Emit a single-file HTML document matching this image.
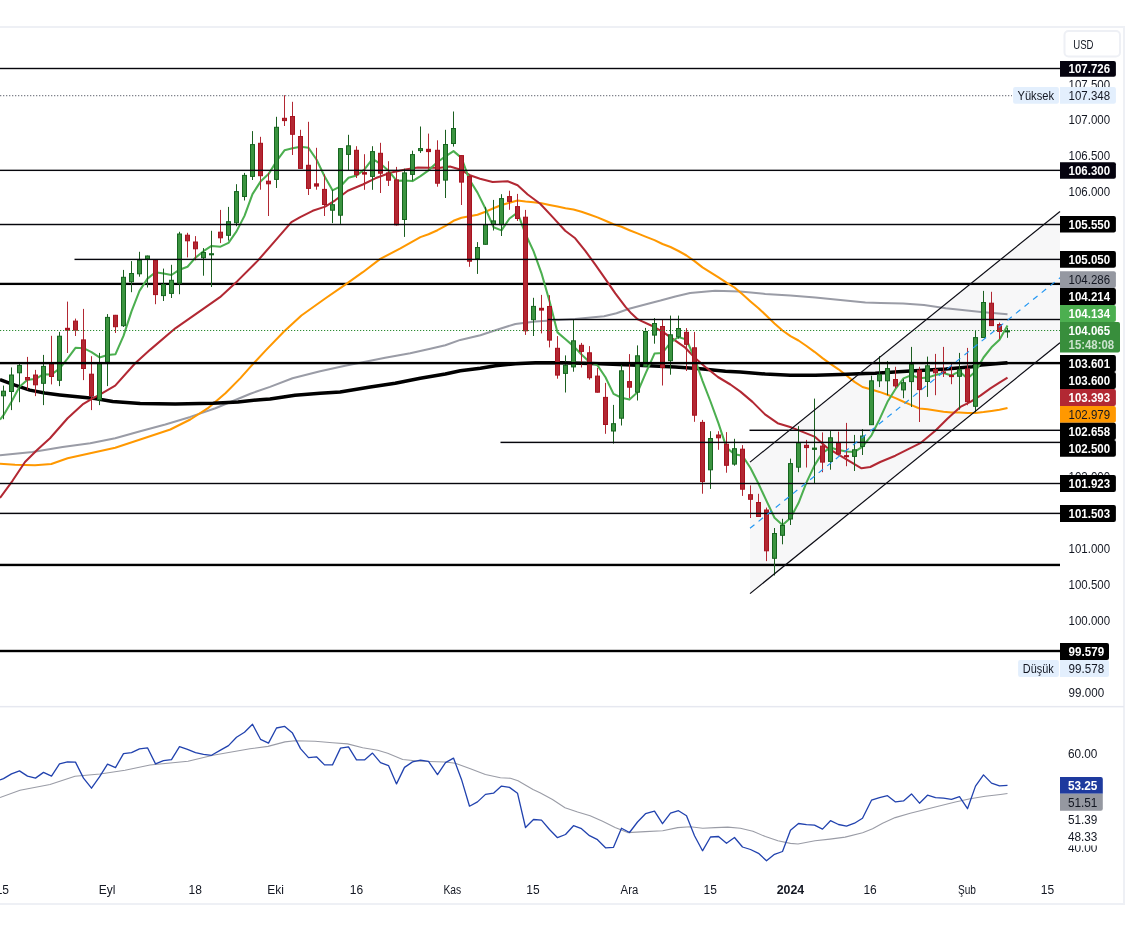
<!DOCTYPE html>
<html><head><meta charset="utf-8"><title>chart</title>
<style>
html,body{margin:0;padding:0;background:#fff;}
body{width:1134px;height:939px;position:relative;overflow:hidden;font-family:"Liberation Sans",sans-serif;}
svg{position:absolute;left:0;top:0;will-change:transform;}
.t{font-family:"Liberation Sans",sans-serif;font-size:12px;fill:#131722;}
.b{font-weight:bold;}
.w{fill:#fff;}
</style></head><body>
<svg width="1134" height="939" viewBox="0 0 1134 939">
<g fill="#eef0f5">
<rect x="0" y="26" width="1125" height="2"/>
<rect x="1123" y="26" width="2" height="879"/>
<rect x="0" y="903" width="1125" height="2"/>
<rect x="0" y="705.9" width="1124" height="1.5" fill="#e6e8f0"/>
</g>
<polygon points="750,462.1 1060,211.5 1060,342.7 750,593.6" fill="#f7f7f8"/>
<rect x="0" y="282.75" width="1060" height="2.3" fill="#000"/>
<rect x="0" y="563.75" width="1060" height="2.4" fill="#000"/>
<rect x="0" y="649.80" width="1060" height="2.4" fill="#000"/>
<polyline points="0.0,455.2 32.6,451.9 62.6,446.9 90.2,443.2 115.2,438.2 140.2,431.2 165.3,424.4 190.3,416.9 215.4,408.2 250.4,393.7 270.0,386.9 292.5,378.2 320.1,371.2 345.1,365.7 370.2,360.7 385.2,357.7 410.2,353.2 430.3,348.7 445.3,345.2 460.3,339.9 480.4,335.2 495.4,330.2 515.4,323.9 535.5,321.4 554.0,320.2 575.1,318.9 604.0,316.2 616.5,313.2 629.1,308.8 648.0,303.7 660.5,300.6 675.3,296.4 690.1,293.1 715.1,290.8 740.2,291.4 765.2,293.9 790.3,295.6 815.3,297.4 840.3,299.9 865.4,302.6 880.4,303.1 903.0,303.4 924.0,305.1 945.8,308.2 981.1,311.9 1007.5,314.2" fill="none" stroke="#9a9ca6" stroke-width="2.05" stroke-linejoin="round"/>
<polyline points="0.0,463.8 15.0,464.8 35.0,465.3 51.3,464.0 67.6,458.3 90.2,453.3 115.2,447.8 140.2,439.5 170.3,429.5 190.3,419.5 207.9,408.2 225.4,393.2 240.4,378.1 250.4,366.9 265.5,350.6 284.0,331.5 301.4,315.5 325.2,298.5 345.3,284.7 362.8,272.2 380.3,258.9 400.4,248.4 420.4,237.1 428.5,234.2 437.5,230.2 445.5,225.8 453.5,220.8 461.5,217.7 469.5,216.3 477.5,214.7 485.5,211.8 493.5,208.3 501.5,205.0 509.5,202.7 517.5,200.5 525.5,201.6 533.5,202.3 541.5,203.3 549.5,205.0 557.5,206.6 565.5,208.2 573.5,209.4 581.5,211.7 589.5,214.5 597.5,217.4 605.5,220.8 613.5,224.2 621.5,226.8 629.5,230.2 637.5,233.4 645.5,236.6 654.5,240.1 662.5,244.0 670.5,247.0 678.5,251.0 686.5,255.5 694.5,261.1 702.5,267.4 710.5,272.4 718.5,277.4 726.5,282.6 734.5,287.5 742.5,294.3 750.5,301.4 758.5,308.2 766.5,315.8 774.5,323.4 782.5,330.5 790.5,336.1 798.5,340.5 806.5,346.0 814.5,351.8 822.5,358.1 830.5,363.8 838.5,369.3 846.5,375.5 854.5,381.9 862.5,387.0 871.5,389.4 879.5,391.9 887.5,394.8 895.5,398.1 903.5,401.8 911.5,405.1 919.5,408.5 927.5,409.2 935.5,410.5 943.5,411.8 951.5,412.5 959.5,412.4 967.5,413.1 975.5,413.0 983.5,412.1 991.5,411.0 999.5,409.8 1007.5,407.9" fill="none" stroke="#ff9800" stroke-width="2.05" stroke-linejoin="round"/>
<polyline points="0.0,379.6 14.9,385.2 29.8,390.1 44.7,393.0 59.7,394.9 80.0,397.1 95.0,398.5 112.7,401.4 140.2,403.4 175.3,403.9 212.9,403.2 238.0,401.9 263.0,399.4 270.0,399.0 295.0,395.3 320.1,393.3 340.1,392.0 370.2,387.0 395.2,383.3 420.3,378.3 445.3,374.0 460.3,370.7 480.4,368.2 495.4,365.7 515.4,363.7 535.5,362.7 562.6,362.7 600.2,363.7 637.7,365.2 675.3,367.0 700.4,368.7 725.4,371.2 740.2,372.0 765.2,374.0 790.3,375.3 815.3,375.3 840.3,374.5 865.4,373.5 875.3,373.2 910.5,371.1 945.8,369.0 972.3,366.7 981.1,365.0 1007.5,362.7" fill="none" stroke="#000" stroke-width="3.5" stroke-linejoin="round"/>
<polyline points="0.0,497.9 12.5,480.8 25.0,462.0 37.6,449.5 50.0,438.3 67.6,418.2 82.6,404.4 91.4,399.2 100.2,394.3 115.2,385.6 135.2,363.2 150.3,349.6 175.3,328.3 200.0,311.1 220.0,297.2 237.6,280.9 257.6,260.9 275.1,240.9 291.4,222.1 300.2,217.1 312.7,210.8 325.2,206.6 335.2,200.3 347.8,190.8 362.8,184.5 375.3,178.3 390.3,172.8 405.4,169.5 417.9,167.5 430.4,167.8 440.4,167.8 450.0,166.5 460.0,169.5 470.0,175.2 480.0,178.7 492.6,182.0 507.6,181.2 517.6,185.2 527.7,194.5 540.2,203.8 552.7,217.1 565.2,230.8 575.2,238.3 585.3,250.9 595.3,264.6 605.3,278.9 615.3,293.4 625.3,306.6 631.5,313.6 637.9,319.4 651.7,325.7 662.8,331.9 675.3,340.7 685.3,347.7 695.3,358.2 705.4,367.0 717.9,377.0 730.4,384.5 740.4,391.6 752.5,401.9 765.0,414.4 777.6,423.2 790.1,426.9 802.6,431.9 815.1,436.9 827.7,448.2 840.2,455.7 852.7,463.2 861.5,468.3 870.2,467.0 880.2,462.0 895.3,455.7 910.3,448.2 920.3,443.2 935.3,430.7 947.9,418.2 960.4,406.9 970.4,401.9 980.4,395.6 990.4,388.4 999.4,382.6 1007.5,377.7" fill="none" stroke="#b22833" stroke-width="2.05" stroke-linejoin="round"/>
<polyline points="0.0,419.7 3.5,415.2 11.5,401.8 19.5,386.8 27.5,379.8 35.5,379.1 43.5,374.2 51.5,374.5 59.5,368.7 67.5,358.7 75.5,347.8 83.5,348.2 91.5,352.1 99.5,357.4 107.5,354.9 115.5,354.2 123.5,335.9 131.5,311.4 139.5,290.9 147.5,278.6 155.5,272.2 163.5,273.6 171.5,275.0 179.5,269.7 187.5,266.7 195.5,257.6 203.5,251.2 211.5,245.9 220.5,246.7 228.5,242.8 236.5,231.4 244.5,215.9 252.5,194.1 260.5,181.6 268.5,174.1 276.5,161.2 284.5,150.3 292.5,148.3 300.5,146.8 308.5,147.8 316.5,159.5 324.5,176.3 332.5,190.3 340.5,186.3 348.5,177.8 356.5,175.5 364.5,169.4 372.5,158.8 380.5,163.8 388.5,170.7 396.5,180.7 404.5,180.5 412.5,181.1 420.5,176.1 428.5,170.3 437.5,162.0 445.5,156.3 453.5,151.1 461.5,157.9 469.5,179.8 477.5,192.6 485.5,208.7 493.5,227.2 501.5,230.4 509.5,218.5 517.5,212.7 525.5,234.0 533.5,251.1 541.5,273.3 549.5,301.1 557.5,332.4 565.5,339.3 573.5,346.1 581.5,354.5 589.5,362.0 597.5,365.4 605.5,377.3 613.5,393.9 621.5,397.7 629.5,399.6 637.5,392.3 645.5,373.6 654.5,353.6 662.5,353.0 670.5,342.5 678.5,337.0 686.5,339.6 694.5,358.0 702.5,380.8 710.5,401.5 718.5,423.4 726.5,447.6 734.5,454.3 742.5,455.8 750.5,468.0 758.5,483.8 766.5,500.9 774.5,517.8 782.5,525.0 790.5,517.9 798.5,503.1 806.5,482.4 814.5,465.4 822.5,452.8 830.5,447.6 838.5,449.9 846.5,451.6 854.5,451.9 862.5,446.7 871.5,435.3 879.5,419.4 887.5,401.8 895.5,389.0 903.5,378.4 911.5,375.1 919.5,378.2 927.5,377.6 935.5,375.0 943.5,373.0 951.5,375.4 959.5,371.4 967.5,378.6 975.5,371.6 983.5,357.5 991.5,347.3 999.5,339.7 1007.5,325.5" fill="none" stroke="#4caf50" stroke-width="2.05" stroke-linejoin="round"/>
<rect x="3.0" y="385.6" width="1" height="33.6" fill="#1b5e20"/>
<rect x="1.5" y="391.2" width="4" height="4.6" fill="#3b9440" stroke="#16651f" stroke-width="1"/>
<rect x="11.0" y="367.4" width="1" height="42.7" fill="#1b5e20"/>
<rect x="9.5" y="375.0" width="4" height="16.5" fill="#3b9440" stroke="#16651f" stroke-width="1"/>
<rect x="19.0" y="363.8" width="1" height="38.4" fill="#1b5e20"/>
<rect x="17.5" y="365.4" width="4" height="7.4" fill="#3b9440" stroke="#16651f" stroke-width="1"/>
<rect x="27.0" y="356.9" width="1" height="32.9" fill="#b22833"/>
<rect x="25.5" y="377.5" width="4" height="2.3" fill="#b22833" stroke="#a8121f" stroke-width="1"/>
<rect x="35.0" y="369.9" width="1" height="26.2" fill="#b22833"/>
<rect x="33.5" y="375.0" width="4" height="9.8" fill="#b22833" stroke="#a8121f" stroke-width="1"/>
<rect x="43.0" y="354.9" width="1" height="50.2" fill="#1b5e20"/>
<rect x="41.5" y="366.4" width="4" height="16.9" fill="#3b9440" stroke="#16651f" stroke-width="1"/>
<rect x="51.0" y="335.8" width="1" height="48.6" fill="#b22833"/>
<rect x="49.5" y="364.2" width="4" height="12.3" fill="#b22833" stroke="#a8121f" stroke-width="1"/>
<rect x="59.0" y="331.9" width="1" height="54.2" fill="#1b5e20"/>
<rect x="57.5" y="336.2" width="4" height="44.1" fill="#3b9440" stroke="#16651f" stroke-width="1"/>
<rect x="67.0" y="301.6" width="1" height="51.4" fill="#b22833"/>
<rect x="65.0" y="327.8" width="5" height="2.9" fill="#a8121f"/>
<rect x="75.0" y="318.6" width="1" height="17.4" fill="#b22833"/>
<rect x="73.5" y="321.1" width="4" height="9.1" fill="#b22833" stroke="#a8121f" stroke-width="1"/>
<rect x="83.0" y="308.9" width="1" height="71.2" fill="#b22833"/>
<rect x="81.5" y="339.9" width="4" height="28.6" fill="#b22833" stroke="#a8121f" stroke-width="1"/>
<rect x="91.0" y="356.2" width="1" height="53.9" fill="#b22833"/>
<rect x="89.5" y="374.2" width="4" height="21.6" fill="#b22833" stroke="#a8121f" stroke-width="1"/>
<rect x="99.0" y="352.9" width="1" height="52.2" fill="#1b5e20"/>
<rect x="97.5" y="362.9" width="4" height="36.9" fill="#3b9440" stroke="#16651f" stroke-width="1"/>
<rect x="107.0" y="314.1" width="1" height="72.0" fill="#1b5e20"/>
<rect x="105.5" y="317.4" width="4" height="44.8" fill="#3b9440" stroke="#16651f" stroke-width="1"/>
<rect x="115.0" y="314.9" width="1" height="18.1" fill="#b22833"/>
<rect x="113.5" y="315.3" width="4" height="11.4" fill="#b22833" stroke="#a8121f" stroke-width="1"/>
<rect x="123.0" y="269.9" width="1" height="57.1" fill="#1b5e20"/>
<rect x="121.5" y="277.3" width="4" height="48.4" fill="#3b9440" stroke="#16651f" stroke-width="1"/>
<rect x="131.0" y="261.1" width="1" height="31.1" fill="#1b5e20"/>
<rect x="129.5" y="273.5" width="4" height="8.3" fill="#3b9440" stroke="#16651f" stroke-width="1"/>
<rect x="139.0" y="251.8" width="1" height="24.9" fill="#1b5e20"/>
<rect x="137.5" y="260.2" width="4" height="13.6" fill="#3b9440" stroke="#16651f" stroke-width="1"/>
<rect x="147.0" y="255.6" width="1" height="31.9" fill="#1b5e20"/>
<rect x="145.5" y="256.0" width="4" height="2.8" fill="#3b9440" stroke="#16651f" stroke-width="1"/>
<rect x="155.0" y="259.8" width="1" height="44.4" fill="#b22833"/>
<rect x="153.5" y="260.2" width="4" height="34.4" fill="#b22833" stroke="#a8121f" stroke-width="1"/>
<rect x="163.0" y="268.6" width="1" height="32.4" fill="#1b5e20"/>
<rect x="161.5" y="284.5" width="4" height="11.1" fill="#3b9440" stroke="#16651f" stroke-width="1"/>
<rect x="171.0" y="264.8" width="1" height="33.2" fill="#1b5e20"/>
<rect x="169.5" y="280.3" width="4" height="13.1" fill="#3b9440" stroke="#16651f" stroke-width="1"/>
<rect x="179.0" y="231.8" width="1" height="62.4" fill="#1b5e20"/>
<rect x="177.5" y="234.0" width="4" height="49.1" fill="#3b9440" stroke="#16651f" stroke-width="1"/>
<rect x="187.0" y="232.8" width="1" height="24.6" fill="#b22833"/>
<rect x="185.5" y="235.2" width="4" height="5.6" fill="#b22833" stroke="#a8121f" stroke-width="1"/>
<rect x="195.0" y="236.1" width="1" height="24.2" fill="#b22833"/>
<rect x="193.5" y="242.0" width="4" height="6.8" fill="#b22833" stroke="#a8121f" stroke-width="1"/>
<rect x="203.0" y="248.1" width="1" height="27.6" fill="#1b5e20"/>
<rect x="201.5" y="252.5" width="4" height="5.3" fill="#3b9440" stroke="#16651f" stroke-width="1"/>
<rect x="211.0" y="230.8" width="1" height="56.2" fill="#1b5e20"/>
<rect x="209.0" y="253.2" width="5" height="2.1" fill="#16651f"/>
<rect x="220.0" y="209.9" width="1" height="33.2" fill="#b22833"/>
<rect x="218.5" y="232.2" width="4" height="5.6" fill="#b22833" stroke="#a8121f" stroke-width="1"/>
<rect x="228.0" y="206.9" width="1" height="33.7" fill="#1b5e20"/>
<rect x="226.5" y="221.7" width="4" height="13.6" fill="#3b9440" stroke="#16651f" stroke-width="1"/>
<rect x="236.0" y="184.2" width="1" height="42.0" fill="#1b5e20"/>
<rect x="234.5" y="191.6" width="4" height="31.2" fill="#3b9440" stroke="#16651f" stroke-width="1"/>
<rect x="244.0" y="172.9" width="1" height="27.6" fill="#1b5e20"/>
<rect x="242.5" y="175.4" width="4" height="21.1" fill="#3b9440" stroke="#16651f" stroke-width="1"/>
<rect x="252.0" y="131.1" width="1" height="48.9" fill="#1b5e20"/>
<rect x="250.5" y="144.6" width="4" height="31.8" fill="#3b9440" stroke="#16651f" stroke-width="1"/>
<rect x="260.0" y="136.8" width="1" height="52.9" fill="#b22833"/>
<rect x="258.5" y="143.3" width="4" height="32.4" fill="#b22833" stroke="#a8121f" stroke-width="1"/>
<rect x="268.0" y="172.9" width="1" height="43.1" fill="#b22833"/>
<rect x="266.5" y="181.2" width="4" height="2.6" fill="#b22833" stroke="#a8121f" stroke-width="1"/>
<rect x="276.0" y="116.8" width="1" height="71.2" fill="#1b5e20"/>
<rect x="274.5" y="127.3" width="4" height="52.1" fill="#3b9440" stroke="#16651f" stroke-width="1"/>
<rect x="284.0" y="95.2" width="1" height="30.8" fill="#b22833"/>
<rect x="282.5" y="118.3" width="4" height="2.3" fill="#b22833" stroke="#a8121f" stroke-width="1"/>
<rect x="292.0" y="101.8" width="1" height="53.2" fill="#b22833"/>
<rect x="290.5" y="116.5" width="4" height="17.8" fill="#b22833" stroke="#a8121f" stroke-width="1"/>
<rect x="300.0" y="129.8" width="1" height="38.9" fill="#b22833"/>
<rect x="298.5" y="136.5" width="4" height="31.9" fill="#b22833" stroke="#a8121f" stroke-width="1"/>
<rect x="308.0" y="121.8" width="1" height="73.2" fill="#b22833"/>
<rect x="306.5" y="165.3" width="4" height="23.1" fill="#b22833" stroke="#a8121f" stroke-width="1"/>
<rect x="316.0" y="147.8" width="1" height="41.9" fill="#b22833"/>
<rect x="314.0" y="183.3" width="5" height="3.3" fill="#a8121f"/>
<rect x="324.0" y="174.4" width="1" height="41.6" fill="#b22833"/>
<rect x="322.5" y="189.4" width="4" height="15.1" fill="#b22833" stroke="#a8121f" stroke-width="1"/>
<rect x="332.0" y="189.9" width="1" height="33.2" fill="#1b5e20"/>
<rect x="330.5" y="204.7" width="4" height="5.5" fill="#3b9440" stroke="#16651f" stroke-width="1"/>
<rect x="340.0" y="148.2" width="1" height="75.7" fill="#1b5e20"/>
<rect x="338.5" y="148.6" width="4" height="66.6" fill="#3b9440" stroke="#16651f" stroke-width="1"/>
<rect x="348.0" y="134.8" width="1" height="35.2" fill="#1b5e20"/>
<rect x="346.5" y="145.8" width="4" height="8.6" fill="#3b9440" stroke="#16651f" stroke-width="1"/>
<rect x="356.0" y="146.2" width="1" height="31.8" fill="#b22833"/>
<rect x="354.5" y="150.3" width="4" height="24.4" fill="#b22833" stroke="#a8121f" stroke-width="1"/>
<rect x="364.0" y="154.2" width="1" height="35.6" fill="#b22833"/>
<rect x="362.0" y="172.1" width="5" height="2.5" fill="#a8121f"/>
<rect x="372.0" y="146.2" width="1" height="43.6" fill="#1b5e20"/>
<rect x="370.5" y="151.6" width="4" height="24.8" fill="#3b9440" stroke="#16651f" stroke-width="1"/>
<rect x="380.0" y="142.8" width="1" height="50.2" fill="#b22833"/>
<rect x="378.5" y="153.3" width="4" height="19.9" fill="#b22833" stroke="#a8121f" stroke-width="1"/>
<rect x="388.0" y="161.2" width="1" height="24.8" fill="#b22833"/>
<rect x="386.5" y="172.9" width="4" height="7.3" fill="#b22833" stroke="#a8121f" stroke-width="1"/>
<rect x="396.0" y="166.9" width="1" height="58.7" fill="#b22833"/>
<rect x="394.5" y="179.9" width="4" height="44.9" fill="#b22833" stroke="#a8121f" stroke-width="1"/>
<rect x="404.0" y="168.7" width="1" height="68.2" fill="#1b5e20"/>
<rect x="402.5" y="172.9" width="4" height="46.6" fill="#3b9440" stroke="#16651f" stroke-width="1"/>
<rect x="412.0" y="150.7" width="1" height="29.8" fill="#1b5e20"/>
<rect x="410.5" y="154.6" width="4" height="19.8" fill="#3b9440" stroke="#16651f" stroke-width="1"/>
<rect x="420.0" y="126.5" width="1" height="26.4" fill="#1b5e20"/>
<rect x="418.5" y="148.6" width="4" height="2.0" fill="#3b9440" stroke="#16651f" stroke-width="1"/>
<rect x="428.0" y="133.6" width="1" height="35.7" fill="#b22833"/>
<rect x="426.0" y="148.8" width="5" height="3.3" fill="#a8121f"/>
<rect x="437.0" y="140.3" width="1" height="46.4" fill="#b22833"/>
<rect x="435.5" y="150.3" width="4" height="32.9" fill="#b22833" stroke="#a8121f" stroke-width="1"/>
<rect x="445.0" y="129.8" width="1" height="68.2" fill="#1b5e20"/>
<rect x="443.5" y="144.5" width="4" height="35.6" fill="#3b9440" stroke="#16651f" stroke-width="1"/>
<rect x="453.0" y="111.5" width="1" height="35.1" fill="#1b5e20"/>
<rect x="451.5" y="128.5" width="4" height="15.0" fill="#3b9440" stroke="#16651f" stroke-width="1"/>
<rect x="461.0" y="155.2" width="1" height="49.8" fill="#b22833"/>
<rect x="459.5" y="155.6" width="4" height="26.5" fill="#b22833" stroke="#a8121f" stroke-width="1"/>
<rect x="469.0" y="174.8" width="1" height="92.0" fill="#b22833"/>
<rect x="467.5" y="176.6" width="4" height="84.6" fill="#b22833" stroke="#a8121f" stroke-width="1"/>
<rect x="477.0" y="242.1" width="1" height="31.8" fill="#1b5e20"/>
<rect x="475.5" y="247.5" width="4" height="11.0" fill="#3b9440" stroke="#16651f" stroke-width="1"/>
<rect x="485.0" y="206.9" width="1" height="37.7" fill="#1b5e20"/>
<rect x="483.5" y="224.7" width="4" height="19.6" fill="#3b9440" stroke="#16651f" stroke-width="1"/>
<rect x="493.0" y="199.9" width="1" height="30.6" fill="#1b5e20"/>
<rect x="491.5" y="220.9" width="4" height="3.6" fill="#3b9440" stroke="#16651f" stroke-width="1"/>
<rect x="501.0" y="194.2" width="1" height="41.8" fill="#1b5e20"/>
<rect x="499.5" y="198.6" width="4" height="26.1" fill="#3b9440" stroke="#16651f" stroke-width="1"/>
<rect x="509.0" y="190.7" width="1" height="19.1" fill="#b22833"/>
<rect x="507.5" y="196.6" width="4" height="4.8" fill="#b22833" stroke="#a8121f" stroke-width="1"/>
<rect x="517.0" y="193.9" width="1" height="27.1" fill="#b22833"/>
<rect x="515.5" y="206.6" width="4" height="11.9" fill="#b22833" stroke="#a8121f" stroke-width="1"/>
<rect x="525.0" y="209.9" width="1" height="125.0" fill="#b22833"/>
<rect x="523.5" y="217.2" width="4" height="113.6" fill="#b22833" stroke="#a8121f" stroke-width="1"/>
<rect x="533.0" y="297.8" width="1" height="38.2" fill="#1b5e20"/>
<rect x="531.5" y="306.4" width="4" height="13.3" fill="#3b9440" stroke="#16651f" stroke-width="1"/>
<rect x="541.0" y="294.9" width="1" height="38.5" fill="#b22833"/>
<rect x="539.0" y="307.8" width="5" height="2.8" fill="#a8121f"/>
<rect x="549.0" y="295.2" width="1" height="52.2" fill="#b22833"/>
<rect x="547.5" y="306.5" width="4" height="33.6" fill="#b22833" stroke="#a8121f" stroke-width="1"/>
<rect x="557.0" y="336.1" width="1" height="42.6" fill="#b22833"/>
<rect x="555.5" y="348.3" width="4" height="26.8" fill="#b22833" stroke="#a8121f" stroke-width="1"/>
<rect x="565.0" y="355.4" width="1" height="37.1" fill="#1b5e20"/>
<rect x="563.5" y="365.3" width="4" height="8.1" fill="#3b9440" stroke="#16651f" stroke-width="1"/>
<rect x="573.0" y="319.4" width="1" height="52.3" fill="#1b5e20"/>
<rect x="571.5" y="340.8" width="4" height="26.1" fill="#3b9440" stroke="#16651f" stroke-width="1"/>
<rect x="581.0" y="342.9" width="1" height="24.6" fill="#b22833"/>
<rect x="579.5" y="345.3" width="4" height="6.1" fill="#b22833" stroke="#a8121f" stroke-width="1"/>
<rect x="589.0" y="346.1" width="1" height="33.6" fill="#b22833"/>
<rect x="587.5" y="352.8" width="4" height="24.9" fill="#b22833" stroke="#a8121f" stroke-width="1"/>
<rect x="597.0" y="367.9" width="1" height="24.6" fill="#b22833"/>
<rect x="595.5" y="376.1" width="4" height="16.1" fill="#b22833" stroke="#a8121f" stroke-width="1"/>
<rect x="605.0" y="382.9" width="1" height="50.9" fill="#b22833"/>
<rect x="603.5" y="397.4" width="4" height="27.1" fill="#b22833" stroke="#a8121f" stroke-width="1"/>
<rect x="613.0" y="404.9" width="1" height="38.7" fill="#1b5e20"/>
<rect x="611.5" y="423.7" width="4" height="7.3" fill="#3b9440" stroke="#16651f" stroke-width="1"/>
<rect x="621.0" y="364.9" width="1" height="60.6" fill="#1b5e20"/>
<rect x="619.5" y="370.8" width="4" height="47.4" fill="#3b9440" stroke="#16651f" stroke-width="1"/>
<rect x="629.0" y="354.1" width="1" height="43.9" fill="#b22833"/>
<rect x="627.5" y="381.6" width="4" height="5.6" fill="#b22833" stroke="#a8121f" stroke-width="1"/>
<rect x="637.0" y="345.4" width="1" height="55.1" fill="#1b5e20"/>
<rect x="635.5" y="355.8" width="4" height="36.4" fill="#3b9440" stroke="#16651f" stroke-width="1"/>
<rect x="645.0" y="327.9" width="1" height="39.1" fill="#1b5e20"/>
<rect x="643.5" y="331.5" width="4" height="34.8" fill="#3b9440" stroke="#16651f" stroke-width="1"/>
<rect x="654.0" y="318.1" width="1" height="25.6" fill="#1b5e20"/>
<rect x="652.5" y="323.5" width="4" height="11.6" fill="#3b9440" stroke="#16651f" stroke-width="1"/>
<rect x="662.0" y="319.9" width="1" height="65.6" fill="#b22833"/>
<rect x="660.5" y="326.5" width="4" height="41.1" fill="#b22833" stroke="#a8121f" stroke-width="1"/>
<rect x="670.0" y="315.6" width="1" height="59.1" fill="#1b5e20"/>
<rect x="668.5" y="334.8" width="4" height="25.9" fill="#3b9440" stroke="#16651f" stroke-width="1"/>
<rect x="678.0" y="315.6" width="1" height="23.1" fill="#1b5e20"/>
<rect x="676.5" y="328.5" width="4" height="8.3" fill="#3b9440" stroke="#16651f" stroke-width="1"/>
<rect x="686.0" y="328.1" width="1" height="42.9" fill="#b22833"/>
<rect x="684.5" y="332.3" width="4" height="12.0" fill="#b22833" stroke="#a8121f" stroke-width="1"/>
<rect x="694.0" y="331.9" width="1" height="89.9" fill="#b22833"/>
<rect x="692.5" y="347.8" width="4" height="67.4" fill="#b22833" stroke="#a8121f" stroke-width="1"/>
<rect x="702.0" y="419.9" width="1" height="73.8" fill="#b22833"/>
<rect x="700.5" y="422.4" width="4" height="59.2" fill="#b22833" stroke="#a8121f" stroke-width="1"/>
<rect x="710.0" y="431.2" width="1" height="57.7" fill="#1b5e20"/>
<rect x="708.5" y="438.5" width="4" height="31.3" fill="#3b9440" stroke="#16651f" stroke-width="1"/>
<rect x="718.0" y="431.2" width="1" height="18.6" fill="#b22833"/>
<rect x="716.5" y="435.0" width="4" height="2.8" fill="#b22833" stroke="#a8121f" stroke-width="1"/>
<rect x="726.0" y="432.1" width="1" height="40.6" fill="#b22833"/>
<rect x="724.5" y="444.2" width="4" height="21.1" fill="#b22833" stroke="#a8121f" stroke-width="1"/>
<rect x="734.0" y="438.8" width="1" height="26.9" fill="#1b5e20"/>
<rect x="732.5" y="448.7" width="4" height="15.4" fill="#3b9440" stroke="#16651f" stroke-width="1"/>
<rect x="742.0" y="445.1" width="1" height="50.8" fill="#b22833"/>
<rect x="740.5" y="449.2" width="4" height="40.0" fill="#b22833" stroke="#a8121f" stroke-width="1"/>
<rect x="750.0" y="485.4" width="1" height="32.6" fill="#b22833"/>
<rect x="748.5" y="494.7" width="4" height="4.6" fill="#b22833" stroke="#a8121f" stroke-width="1"/>
<rect x="758.0" y="493.8" width="1" height="23.0" fill="#b22833"/>
<rect x="756.5" y="502.5" width="4" height="14.0" fill="#b22833" stroke="#a8121f" stroke-width="1"/>
<rect x="766.0" y="507.6" width="1" height="53.5" fill="#b22833"/>
<rect x="764.5" y="510.0" width="4" height="40.8" fill="#b22833" stroke="#a8121f" stroke-width="1"/>
<rect x="774.0" y="528.0" width="1" height="47.5" fill="#1b5e20"/>
<rect x="772.5" y="533.5" width="4" height="24.8" fill="#3b9440" stroke="#16651f" stroke-width="1"/>
<rect x="782.0" y="518.8" width="1" height="25.5" fill="#1b5e20"/>
<rect x="780.5" y="525.5" width="4" height="9.8" fill="#3b9440" stroke="#16651f" stroke-width="1"/>
<rect x="790.0" y="458.6" width="1" height="66.4" fill="#1b5e20"/>
<rect x="788.5" y="463.6" width="4" height="55.4" fill="#3b9440" stroke="#16651f" stroke-width="1"/>
<rect x="798.0" y="426.1" width="1" height="46.1" fill="#1b5e20"/>
<rect x="796.5" y="442.8" width="4" height="24.4" fill="#3b9440" stroke="#16651f" stroke-width="1"/>
<rect x="806.0" y="439.9" width="1" height="27.6" fill="#b22833"/>
<rect x="804.5" y="445.3" width="4" height="2.3" fill="#b22833" stroke="#a8121f" stroke-width="1"/>
<rect x="814.0" y="398.6" width="1" height="84.4" fill="#1b5e20"/>
<rect x="812.0" y="447.6" width="5" height="2.3" fill="#16651f"/>
<rect x="822.0" y="432.4" width="1" height="39.8" fill="#b22833"/>
<rect x="820.5" y="446.1" width="4" height="16.0" fill="#b22833" stroke="#a8121f" stroke-width="1"/>
<rect x="830.0" y="430.6" width="1" height="39.1" fill="#1b5e20"/>
<rect x="828.5" y="437.8" width="4" height="23.6" fill="#3b9440" stroke="#16651f" stroke-width="1"/>
<rect x="838.0" y="431.6" width="1" height="22.6" fill="#b22833"/>
<rect x="836.5" y="442.8" width="4" height="11.1" fill="#b22833" stroke="#a8121f" stroke-width="1"/>
<rect x="846.0" y="422.9" width="1" height="43.3" fill="#b22833"/>
<rect x="844.0" y="455.1" width="5" height="2.1" fill="#a8121f"/>
<rect x="854.0" y="434.9" width="1" height="36.1" fill="#1b5e20"/>
<rect x="852.5" y="449.8" width="4" height="6.6" fill="#3b9440" stroke="#16651f" stroke-width="1"/>
<rect x="862.0" y="429.1" width="1" height="25.9" fill="#1b5e20"/>
<rect x="860.5" y="436.0" width="4" height="10.4" fill="#3b9440" stroke="#16651f" stroke-width="1"/>
<rect x="871.0" y="375.6" width="1" height="49.4" fill="#1b5e20"/>
<rect x="869.5" y="380.8" width="4" height="43.9" fill="#3b9440" stroke="#16651f" stroke-width="1"/>
<rect x="879.0" y="356.1" width="1" height="31.0" fill="#1b5e20"/>
<rect x="877.5" y="374.6" width="4" height="6.2" fill="#3b9440" stroke="#16651f" stroke-width="1"/>
<rect x="887.0" y="361.1" width="1" height="34.1" fill="#1b5e20"/>
<rect x="885.5" y="368.6" width="4" height="12.2" fill="#3b9440" stroke="#16651f" stroke-width="1"/>
<rect x="895.0" y="366.8" width="1" height="21.2" fill="#b22833"/>
<rect x="893.5" y="379.5" width="4" height="6.4" fill="#b22833" stroke="#a8121f" stroke-width="1"/>
<rect x="903.0" y="379.1" width="1" height="19.1" fill="#1b5e20"/>
<rect x="901.5" y="382.7" width="4" height="7.2" fill="#3b9440" stroke="#16651f" stroke-width="1"/>
<rect x="911.0" y="346.9" width="1" height="60.1" fill="#1b5e20"/>
<rect x="909.5" y="364.6" width="4" height="17.0" fill="#3b9440" stroke="#16651f" stroke-width="1"/>
<rect x="919.0" y="366.8" width="1" height="55.2" fill="#b22833"/>
<rect x="917.5" y="370.2" width="4" height="19.4" fill="#b22833" stroke="#a8121f" stroke-width="1"/>
<rect x="927.0" y="356.6" width="1" height="40.3" fill="#1b5e20"/>
<rect x="925.5" y="365.8" width="4" height="15.7" fill="#3b9440" stroke="#16651f" stroke-width="1"/>
<rect x="935.0" y="353.9" width="1" height="41.3" fill="#b22833"/>
<rect x="933.5" y="369.5" width="4" height="3.3" fill="#b22833" stroke="#a8121f" stroke-width="1"/>
<rect x="943.0" y="346.9" width="1" height="30.1" fill="#b22833"/>
<rect x="941.0" y="371.3" width="5" height="2.2" fill="#a8121f"/>
<rect x="951.0" y="363.8" width="1" height="20.4" fill="#b22833"/>
<rect x="949.0" y="374.8" width="5" height="2.3" fill="#a8121f"/>
<rect x="959.0" y="352.9" width="1" height="56.7" fill="#1b5e20"/>
<rect x="957.5" y="369.8" width="4" height="6.5" fill="#3b9440" stroke="#16651f" stroke-width="1"/>
<rect x="967.0" y="347.9" width="1" height="57.3" fill="#b22833"/>
<rect x="965.5" y="369.0" width="4" height="32.7" fill="#b22833" stroke="#a8121f" stroke-width="1"/>
<rect x="975.0" y="330.9" width="1" height="81.4" fill="#1b5e20"/>
<rect x="973.5" y="337.6" width="4" height="68.7" fill="#3b9440" stroke="#16651f" stroke-width="1"/>
<rect x="983.0" y="290.9" width="1" height="46.9" fill="#1b5e20"/>
<rect x="981.5" y="302.5" width="4" height="35.0" fill="#3b9440" stroke="#16651f" stroke-width="1"/>
<rect x="991.0" y="291.8" width="1" height="34.2" fill="#b22833"/>
<rect x="989.5" y="303.2" width="4" height="22.4" fill="#b22833" stroke="#a8121f" stroke-width="1"/>
<rect x="999.0" y="322.6" width="1" height="16.5" fill="#b22833"/>
<rect x="997.5" y="324.5" width="4" height="6.9" fill="#b22833" stroke="#a8121f" stroke-width="1"/>
<rect x="1007.0" y="327.9" width="1" height="9.9" fill="#1b5e20"/>
<rect x="1005.0" y="330.2" width="5" height="2.2" fill="#16651f"/>
<rect x="0" y="361.90" width="1060" height="2.4" fill="#000"/>
<rect x="0" y="67.80" width="1060" height="1.4" fill="#06060c"/>
<rect x="0" y="169.65" width="1060" height="1.4" fill="#06060c"/>
<rect x="0" y="223.78" width="1060" height="1.45" fill="#06060c"/>
<rect x="74.5" y="258.70" width="985.5" height="1.4" fill="#06060c"/>
<rect x="548" y="318.80" width="512" height="1.4" fill="#06060c"/>
<rect x="749.5" y="429.57" width="310.5" height="1.45" fill="#06060c"/>
<rect x="500.5" y="441.67" width="559.5" height="1.45" fill="#06060c"/>
<rect x="0" y="482.80" width="1060" height="1.4" fill="#06060c"/>
<rect x="0" y="512.67" width="1060" height="1.45" fill="#06060c"/>
<line x1="0" y1="95.6" x2="1012" y2="95.6" stroke="#80838c" stroke-width="1.2" stroke-dasharray="1.3 1.7"/>
<line x1="0" y1="330.5" x2="1060" y2="330.5" stroke="#2e8b34" stroke-width="1.2" stroke-dasharray="1.2 1.8"/>
<g stroke="#0c0c14" stroke-width="1.2">
<line x1="750" y1="462.1" x2="1060" y2="211.5"/>
<line x1="750" y1="593.6" x2="1060" y2="342.7"/>
</g>
<line x1="750" y1="528.3" x2="1060" y2="277.8" stroke="#2196f3" stroke-width="1.15" stroke-dasharray="5.7 5.33"/>
<polyline points="0.0,797.5 20.0,790.3 50.0,784.5 75.0,776.2 100.0,774.0 125.0,770.2 150.0,765.0 188.0,761.2 213.0,755.2 250.0,748.7 268.0,746.4 285.0,741.9 295.0,740.7 315.0,741.2 332.6,742.7 347.6,743.9 362.7,747.7 377.7,750.2 387.7,753.2 402.7,759.5 420.3,761.2 445.3,762.0 455.3,763.2 470.4,768.7 485.4,774.5 500.4,777.7 510.4,778.2 518.0,780.7 533.0,789.5 540.0,792.8 552.5,799.5 565.0,807.8 577.6,812.0 590.1,815.8 602.6,821.3 615.1,827.6 627.7,832.6 645.2,831.6 662.7,830.8 677.7,827.6 690.3,826.8 702.8,828.3 715.3,827.6 727.8,827.1 740.4,828.3 752.9,831.3 765.4,836.6 777.9,840.8 790.4,843.4 798.0,844.0 815.0,840.8 830.0,839.1 845.1,837.1 862.6,832.8 872.6,828.8 882.6,823.3 895.2,817.6 910.2,813.3 925.2,809.5 940.2,805.8 955.3,802.0 970.3,798.8 985.3,796.3 1000.4,794.5 1007.5,793.5" fill="none" stroke="#9a9ca6" stroke-width="1.1" stroke-linejoin="round"/>
<polyline points="0.0,780.0 3.5,778.6 11.5,773.9 19.5,770.9 27.5,776.1 35.5,778.1 43.5,772.4 51.5,776.1 59.5,763.9 67.5,761.9 75.5,762.1 83.5,778.1 91.5,788.2 99.5,776.9 107.5,764.1 115.5,767.6 123.5,753.6 131.5,752.6 139.5,748.8 147.5,747.8 155.5,763.9 163.5,760.6 171.5,759.6 179.5,746.6 187.5,749.3 195.5,752.6 203.5,754.3 211.5,755.3 220.5,750.1 228.5,745.6 236.5,737.3 244.5,732.3 252.5,724.3 260.5,739.3 268.5,743.1 276.5,728.0 284.5,726.3 292.5,733.1 300.5,748.6 308.5,757.6 316.5,756.8 324.5,764.9 332.5,764.9 340.5,748.1 348.5,746.8 356.5,759.9 364.5,759.9 372.5,753.1 380.5,762.6 388.5,765.6 396.5,783.9 404.5,767.4 412.5,761.9 420.5,760.1 428.5,761.4 437.5,774.6 445.5,762.6 453.5,758.1 461.5,779.4 469.5,806.2 477.5,801.9 485.5,794.4 493.5,793.2 501.5,786.1 509.5,787.4 517.5,793.2 525.5,827.5 533.5,819.5 541.5,820.2 549.5,829.5 557.5,837.7 565.5,834.5 573.5,825.7 581.5,828.7 589.5,835.7 597.5,839.7 605.5,847.8 613.5,847.3 621.5,828.2 629.5,832.5 637.5,822.0 645.5,813.7 654.5,811.2 662.5,823.7 670.5,813.2 678.5,810.7 686.5,815.7 694.5,835.7 702.5,850.8 710.5,837.0 718.5,836.5 726.5,843.3 734.5,837.5 742.5,847.0 750.5,849.5 758.5,853.3 766.5,860.8 774.5,854.3 782.5,851.5 790.5,830.2 798.5,823.5 806.5,824.7 814.5,825.2 822.5,829.1 830.5,820.7 838.5,824.5 846.5,826.2 854.5,823.2 862.5,818.2 871.5,800.2 879.5,797.7 887.5,795.7 895.5,801.9 903.5,800.9 911.5,793.9 919.5,803.2 927.5,795.2 935.5,797.7 943.5,798.2 951.5,799.4 959.5,796.7 967.5,808.7 975.5,786.1 983.5,774.9 991.5,783.1 999.5,785.9 1007.5,785.4" fill="none" stroke="#2142ae" stroke-width="1.3" stroke-linejoin="round"/>
<text x="1068.6" y="88.6" class="t" textLength="41.5" lengthAdjust="spacingAndGlyphs">107.500</text>
<text x="1068.6" y="124.0" class="t" textLength="41.5" lengthAdjust="spacingAndGlyphs">107.000</text>
<text x="1068.6" y="159.8" class="t" textLength="41.5" lengthAdjust="spacingAndGlyphs">106.500</text>
<text x="1068.6" y="196.10000000000002" class="t" textLength="41.5" lengthAdjust="spacingAndGlyphs">106.000</text>
<text x="1068.6" y="481.3" class="t" textLength="41.5" lengthAdjust="spacingAndGlyphs">102.000</text>
<text x="1068.6" y="553.3" class="t" textLength="41.5" lengthAdjust="spacingAndGlyphs">101.000</text>
<text x="1068.6" y="589.0" class="t" textLength="41.5" lengthAdjust="spacingAndGlyphs">100.500</text>
<text x="1068.6" y="624.8" class="t" textLength="41.5" lengthAdjust="spacingAndGlyphs">100.000</text>
<text x="1068.6" y="697.0" class="t" textLength="35.5" lengthAdjust="spacingAndGlyphs">99.000</text>
<path d="M1060 60.90h53.9a2 2 0 0 1 2 2v11.90a2 2 0 0 1 -2 2h-53.9z" fill="#05030f"/>
<text x="1068.6" y="73.1" class="t b" style="fill:#fff" textLength="41.5" lengthAdjust="spacingAndGlyphs">107.726</text>
<rect x="1013.1" y="87.1" width="45.8" height="16.7" rx="2" fill="#e3effd"/>
<path d="M1060 87.1h53.9a2 2 0 0 1 2 2v12.7a2 2 0 0 1 -2 2h-53.9z" fill="#e3effd"/>
<text x="1017.5" y="99.89999999999999" class="t" textLength="36.5" lengthAdjust="spacingAndGlyphs">Yüksek</text>
<text x="1068.6" y="99.89999999999999" class="t" textLength="41.5" lengthAdjust="spacingAndGlyphs">107.348</text>
<path d="M1060 162.30h53.9a2 2 0 0 1 2 2v12.40a2 2 0 0 1 -2 2h-53.9z" fill="#05030f"/>
<text x="1068.6" y="174.9" class="t b" style="fill:#fff" textLength="41.5" lengthAdjust="spacingAndGlyphs">106.300</text>
<path d="M1060 216.10h53.9a2 2 0 0 1 2 2v12.50a2 2 0 0 1 -2 2h-53.9z" fill="#000"/>
<text x="1068.6" y="228.8" class="t b" style="fill:#fff" textLength="41.5" lengthAdjust="spacingAndGlyphs">105.550</text>
<path d="M1060 251.10h53.9a2 2 0 0 1 2 2v12.70a2 2 0 0 1 -2 2h-53.9z" fill="#000"/>
<text x="1068.6" y="263.8" class="t b" style="fill:#fff" textLength="41.5" lengthAdjust="spacingAndGlyphs">105.050</text>
<path d="M1060 271.20h53.9a2 2 0 0 1 2 2v12.80a2 2 0 0 1 -2 2h-53.9z" fill="#9598a1"/>
<text x="1068.6" y="284.0" class="t" style="fill:#131722" textLength="41.5" lengthAdjust="spacingAndGlyphs">104.286</text>
<path d="M1060 288.00h53.9a2 2 0 0 1 2 2v12.90a2 2 0 0 1 -2 2h-53.9z" fill="#000"/>
<text x="1068.6" y="300.8" class="t b" style="fill:#fff" textLength="41.5" lengthAdjust="spacingAndGlyphs">104.214</text>
<path d="M1060 304.90h53.9a2 2 0 0 1 2 2v13.20a2 2 0 0 1 -2 2h-53.9z" fill="#4caf50"/>
<text x="1068.6" y="317.9" class="t b" style="fill:#fff" textLength="41.5" lengthAdjust="spacingAndGlyphs">104.134</text>
<path d="M1060 322.1h58a2 2 0 0 1 2 2v26.5a2 2 0 0 1 -2 2h-58z" fill="#388e3c"/>
<text x="1068.6" y="334.9" class="t b w" textLength="41.5" lengthAdjust="spacingAndGlyphs">104.065</text>
<text x="1068.6" y="349.0" class="t b" style="fill:#cbe3cd" textLength="45.5" lengthAdjust="spacingAndGlyphs">15:48:08</text>
<path d="M1060 354.90h53.9a2 2 0 0 1 2 2v13.10a2 2 0 0 1 -2 2h-53.9z" fill="#000"/>
<text x="1068.6" y="368.1" class="t b" style="fill:#fff" textLength="41.5" lengthAdjust="spacingAndGlyphs">103.601</text>
<path d="M1060 372.00h53.9a2 2 0 0 1 2 2v12.90a2 2 0 0 1 -2 2h-53.9z" fill="#000"/>
<text x="1068.6" y="384.7" class="t b" style="fill:#fff" textLength="41.5" lengthAdjust="spacingAndGlyphs">103.600</text>
<path d="M1060 388.90h53.9a2 2 0 0 1 2 2v13.10a2 2 0 0 1 -2 2h-53.9z" fill="#b22833"/>
<text x="1068.6" y="401.7" class="t b" style="fill:#fff" textLength="41.5" lengthAdjust="spacingAndGlyphs">103.393</text>
<path d="M1060 406.00h53.9a2 2 0 0 1 2 2v12.80a2 2 0 0 1 -2 2h-53.9z" fill="#ff9800"/>
<text x="1068.6" y="418.7" class="t" style="fill:#131722" textLength="41.5" lengthAdjust="spacingAndGlyphs">102.979</text>
<path d="M1060 422.80h53.9a2 2 0 0 1 2 2v13.10a2 2 0 0 1 -2 2h-53.9z" fill="#000"/>
<text x="1068.6" y="435.9" class="t b" style="fill:#fff" textLength="41.5" lengthAdjust="spacingAndGlyphs">102.658</text>
<path d="M1060 439.90h53.9a2 2 0 0 1 2 2v12.90a2 2 0 0 1 -2 2h-53.9z" fill="#000"/>
<text x="1068.6" y="452.7" class="t b" style="fill:#fff" textLength="41.5" lengthAdjust="spacingAndGlyphs">102.500</text>
<path d="M1060 474.90h53.9a2 2 0 0 1 2 2v13.00a2 2 0 0 1 -2 2h-53.9z" fill="#000"/>
<text x="1068.6" y="487.8" class="t b" style="fill:#fff" textLength="41.5" lengthAdjust="spacingAndGlyphs">101.923</text>
<path d="M1060 505.00h53.9a2 2 0 0 1 2 2v12.90a2 2 0 0 1 -2 2h-53.9z" fill="#000"/>
<text x="1068.6" y="517.8" class="t b" style="fill:#fff" textLength="41.5" lengthAdjust="spacingAndGlyphs">101.503</text>
<path d="M1060 643.00h47a2 2 0 0 1 2 2v13.00a2 2 0 0 1 -2 2h-47z" fill="#000"/>
<text x="1068.6" y="655.7" class="t b" style="fill:#fff" textLength="35.5" lengthAdjust="spacingAndGlyphs">99.579</text>
<rect x="1018.1" y="660.0" width="40.8" height="16.9" rx="2" fill="#e3effd"/>
<path d="M1060 660h47a2 2 0 0 1 2 2v12.9a2 2 0 0 1 -2 2h-47z" fill="#e3effd"/>
<text x="1022.8" y="672.5" class="t" textLength="30.9" lengthAdjust="spacingAndGlyphs">Düşük</text>
<text x="1068.6" y="672.8" class="t" textLength="35.5" lengthAdjust="spacingAndGlyphs">99.578</text>
<text x="1067.9" y="758.1999999999999" class="t" textLength="29.5" lengthAdjust="spacingAndGlyphs">60.00</text>
<text x="1067.9" y="851.6999999999999" class="t" textLength="29.5" lengthAdjust="spacingAndGlyphs">40.00</text>
<rect x="1062" y="829" width="42" height="16.4" fill="#fff"/>
<text x="1067.9" y="840.9" class="t" textLength="29.5" lengthAdjust="spacingAndGlyphs">48.33</text>
<text x="1067.9" y="824.0999999999999" class="t" textLength="29.5" lengthAdjust="spacingAndGlyphs">51.39</text>
<path d="M1060 777h40.8a2 2 0 0 1 2 2v14.7h-42.8z" fill="#1e3a9e"/>
<text x="1067.9" y="789.5999999999999" class="t b w" textLength="29.5" lengthAdjust="spacingAndGlyphs">53.25</text>
<path d="M1060 793.7h42.8v15a2 2 0 0 1 -2 2h-40.8z" fill="#9598a1"/>
<text x="1067.9" y="807.0" class="t" textLength="29.5" lengthAdjust="spacingAndGlyphs">51.51</text>
<rect x="1064.5" y="31" width="55.5" height="25.5" rx="4" fill="#fff" stroke="#eef0f5" stroke-width="2"/>
<text x="1073.2" y="49" class="t" textLength="20.3" lengthAdjust="spacingAndGlyphs">USD</text>
<text x="2.3" y="894.1" class="t" text-anchor="middle">15</text>
<text x="107.2" y="894.1" class="t" text-anchor="middle">Eyl</text>
<text x="195.3" y="894.1" class="t" text-anchor="middle">18</text>
<text x="275.5" y="894.1" class="t" text-anchor="middle">Eki</text>
<text x="356.4" y="894.1" class="t" text-anchor="middle">16</text>
<text x="443.40000000000003" y="894.1" class="t" textLength="17.8" lengthAdjust="spacingAndGlyphs">Kas</text>
<text x="533" y="894.1" class="t" text-anchor="middle">15</text>
<text x="620.6" y="894.1" class="t" textLength="17.6" lengthAdjust="spacingAndGlyphs">Ara</text>
<text x="710.3" y="894.1" class="t" text-anchor="middle">15</text>
<text x="776.65" y="894.1" class="t b" textLength="27.5" lengthAdjust="spacingAndGlyphs">2024</text>
<text x="870.1" y="894.1" class="t" text-anchor="middle">16</text>
<text x="958.0" y="894.1" class="t" textLength="18" lengthAdjust="spacingAndGlyphs">Şub</text>
<text x="1047.4" y="894.1" class="t" text-anchor="middle">15</text>
</svg></body></html>
